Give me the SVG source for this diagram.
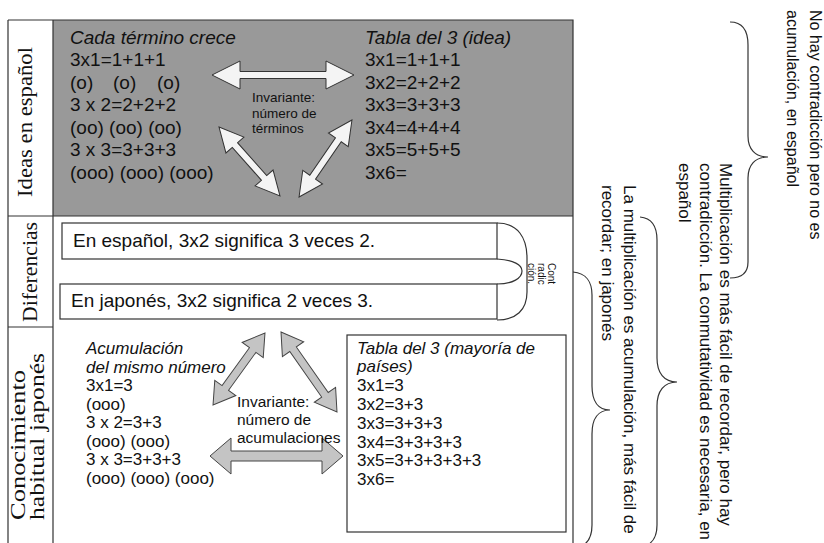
<svg xmlns="http://www.w3.org/2000/svg" width="824" height="543" viewBox="0 0 824 543">
<style>
.t{font-family:"Liberation Sans",Arial,sans-serif;fill:#111}
.it{font-style:italic}
.f19{font-size:19px}
.f17{font-size:17px}
.lbl{font-family:"Liberation Serif","Times New Roman",serif;font-size:22px;fill:#111}
.ln{fill:none;stroke:#333;stroke-width:1.2}
.box{fill:#fff;stroke:#333;stroke-width:1.2}
.aw{fill:#f4f4f4;stroke:#333;stroke-width:1}
.ag{fill:#c4c4c4;stroke:#444;stroke-width:1}
</style>
<rect width="824" height="543" fill="#fff"/>

<g id="frame">
  <rect x="53" y="20" width="520" height="196" fill="#999999"/>
  <path class="ln" d="M8,20 H573 V543 M8,20 V543 M53,20 V543 M8,216 H573 M8,327 H53"/>
</g>

<g id="row-labels">
  <text class="lbl" transform="translate(32,197) rotate(-90)" textLength="150" lengthAdjust="spacingAndGlyphs">Ideas en español</text>
  <text class="lbl" transform="translate(37,322) rotate(-90)" textLength="100" lengthAdjust="spacingAndGlyphs">Diferencias</text>
  <text class="lbl" transform="translate(25,520) rotate(-90)" textLength="150" lengthAdjust="spacingAndGlyphs">Conocimiento</text>
  <text class="lbl" transform="translate(44,520) rotate(-90)" textLength="167" lengthAdjust="spacingAndGlyphs">habitual japonés</text>
</g>

<g id="es-accumulation">
  <text class="t f19" x="70" y="43.5"><tspan class="it">Cada término crece</tspan></text>
  <text class="t f19" x="70" y="66">3x1=1+1+1</text>
  <text class="t f19" y="88.5"><tspan x="70">(o)</tspan><tspan x="113">(o)</tspan><tspan x="157">(o)</tspan></text>
  <text class="t f19" x="70" y="111">3 x 2=2+2+2</text>
  <text class="t f19" x="70" y="133.5">(oo) (oo) (oo)</text>
  <text class="t f19" x="70" y="156">3 x 3=3+3+3</text>
  <text class="t f19" x="70" y="178.5">(ooo) (ooo) (ooo)</text>
</g>

<g id="es-table">
  <text class="t f19 it" x="365" y="43.5">Tabla del 3 (idea)</text>
  <text class="t f19" x="365" y="66">3x1=1+1+1</text>
  <text class="t f19" x="365" y="88.5">3x2=2+2+2</text>
  <text class="t f19" x="365" y="111">3x3=3+3+3</text>
  <text class="t f19" x="365" y="133.5">3x4=4+4+4</text>
  <text class="t f19" x="365" y="156">3x5=5+5+5</text>
  <text class="t f19" x="365" y="178.5">3x6=</text>
</g>

<g id="es-invariant">
  <text class="t" font-size="13.5" x="252" y="102">Invariante:</text>
  <text class="t" font-size="13.5" x="252" y="117.5">número de</text>
  <text class="t" font-size="13.5" x="252" y="133">términos</text>
</g>

<g id="diff-es">
  <rect class="box" x="62" y="223" width="435" height="36"/>
  <text class="t f19" x="73" y="247">En español, 3x2 significa 3 veces 2.</text>
</g>
<g id="diff-jp">
  <rect class="box" x="60" y="284" width="437" height="35"/>
  <text class="t f19" x="71" y="307">En japonés, 3x2 significa 2 veces 3.</text>
</g>

<g id="contradiction">
  <path class="ln" d="M497,223 C518,223 527,238 527,258 L527,292 C527,310 516,320 497,320"/>
  <path class="ln" d="M497,259 C514,260 522,265 522,271 C522,278 513,284 497,284"/>
  <text class="t" font-size="10" transform="translate(548,263) rotate(90)"><tspan x="0" y="0">Cont</tspan><tspan x="0" y="10">radic</tspan><tspan x="0" y="20">ción.</tspan></text>
</g>

<g id="jp-accumulation">
  <text class="t f17 it" x="86" y="354">Acumulación</text>
  <text class="t f17 it" x="86" y="372.5">del mismo número</text>
  <text class="t f17" x="86" y="391">3x1=3</text>
  <text class="t f17" x="86" y="409.5">(ooo)</text>
  <text class="t f17" x="86" y="428">3 x 2=3+3</text>
  <text class="t f17" x="86" y="446.5">(ooo) (ooo)</text>
  <text class="t f17" x="86" y="465">3 x 3=3+3+3</text>
  <text class="t f17" x="86" y="483.5">(ooo) (ooo) (ooo)</text>
</g>

<g id="jp-table">
  <rect class="box" x="347" y="335" width="219" height="197"/>
  <text class="t f17 it" x="357" y="353.5">Tabla del 3 (mayoría de</text>
  <text class="t f17 it" x="357" y="372.3">países)</text>
  <text class="t f17" x="357" y="391.1">3x1=3</text>
  <text class="t f17" x="357" y="409.9">3x2=3+3</text>
  <text class="t f17" x="357" y="428.7">3x3=3+3+3</text>
  <text class="t f17" x="357" y="447.5">3x4=3+3+3+3</text>
  <text class="t f17" x="357" y="466.3">3x5=3+3+3+3+3</text>
  <text class="t f17" x="357" y="485.1">3x6=</text>
</g>

<g id="connectors">
  <polygon class="aw" transform="translate(283,75)" points="-71,0 -43,-14 -43,-3.5 43,-3.5 43,-14 71,0 43,14 43,3.5 -43,3.5 -43,14"/>
  <polygon class="aw" transform="translate(249.5,161.5) rotate(48.5)" points="-46,0 -22,-12 -22,-3.5 22,-3.5 22,-12 46,0 22,12 22,3.5 -22,3.5 -22,12"/>
  <polygon class="aw" transform="translate(325.5,158.5) rotate(124.5)" points="-46.7,0 -22.7,-12 -22.7,-3.5 22.7,-3.5 22.7,-12 46.7,0 22.7,12 22.7,3.5 -22.7,3.5 -22.7,12"/>
  <polygon class="ag" transform="translate(276.5,456)" points="-66.5,0 -45.5,-18 -45.5,-5 45.5,-5 45.5,-18 66.5,0 45.5,18 45.5,5 -45.5,5 -45.5,18"/>
  <polygon class="ag" transform="translate(239,369) rotate(-54.2)" points="-44.4,0 -23.4,-13 -23.4,-4 23.4,-4 23.4,-13 44.4,0 23.4,13 23.4,4 -23.4,4 -23.4,13"/>
  <polygon class="ag" transform="translate(309,372) rotate(55)" points="-48.8,0 -27.8,-13 -27.8,-4 27.8,-4 27.8,-13 48.8,0 27.8,13 27.8,4 -27.8,4 -27.8,13"/>
</g>

<g id="jp-invariant">
  <text class="t" font-size="15.5" x="237" y="407">Invariante:</text>
  <text class="t" font-size="15.5" x="237" y="425">número de</text>
  <text class="t" font-size="15.5" x="237" y="443">acumulaciones</text>
</g>

<g id="note-es">
  <path class="ln" d="M730,22 C742,22 748,30 748,45 L748,136 C748,149 755,157 768,157 C755,157 748,165 748,178 L748,262 C748,272 742,278 730,278"/>
  <text class="t" font-size="16" transform="translate(810,10) rotate(90)"><tspan x="0" y="0">No hay contradicción pero no es</tspan><tspan x="0" y="23">acumulación, en español</tspan></text>
</g>

<g id="note-commutativity">
  <path class="ln" d="M640,217 C651,218 657,225 657,240 L657,358 C657,373 664,382 677,382 C664,382 657,391 657,406 L657,525 C657,538 651,546 640,547"/>
  <text class="t f17" transform="translate(720,163) rotate(90)"><tspan x="0" y="0">Multiplicación es más fácil de recordar, pero hay</tspan><tspan x="0" y="20.5">contradicción. La conmutatividad es necesaria, en</tspan><tspan x="0" y="41">español</tspan></text>
</g>

<g id="note-jp">
  <path class="ln" d="M573,272 C586,273 592,282 592,295 L592,386 C592,401 598,410 610,410 C598,410 592,419 592,434 L592,525 C592,538 586,546 576,548"/>
  <text class="t f17" transform="translate(624,185) rotate(90)"><tspan x="0" y="0">La multiplicación es acumulación, más fácil de</tspan><tspan x="0" y="22">recordar; en japonés</tspan></text>
</g>
</svg>
